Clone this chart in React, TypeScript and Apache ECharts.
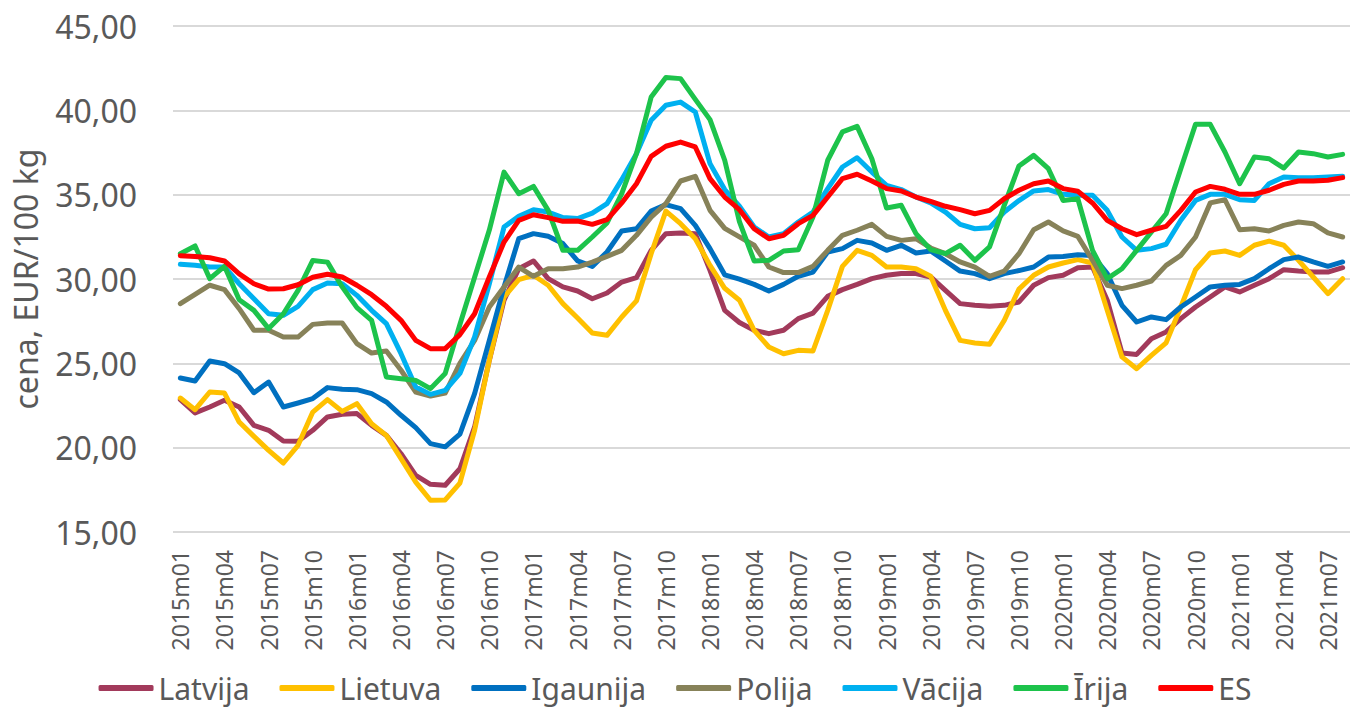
import React, { useEffect, useRef } from "react";
import * as echarts from "echarts";

const START_YEAR = 2015;
const MONTH_COUNT = 80;
const categories: string[] = [];
for (let i = 0; i < MONTH_COUNT; i++) {
  const y = START_YEAR + Math.floor(i / 12);
  const m = (i % 12) + 1;
  categories.push(`${y}m${m < 10 ? "0" + m : m}`);
}

const seriesNames = ["Latvija", "Lietuva", "Igaunija", "Polija", "Vācija", "Īrija", "ES"];
const seriesColors = ["#A23A5B", "#FFC000", "#0070C0", "#878259", "#00B0F0", "#1DC34B", "#FF0000"];

const latvija = [
  22.85, 22.06, 22.41, 22.81, 22.41, 21.32, 21.03, 20.4, 20.38, 21.03, 21.82, 21.98,
  22.02, 21.32, 20.73, 19.64, 18.36, 17.83, 17.77, 18.75, 21.23, 25.18, 28.74, 30.61,
  31.07, 30.02, 29.53, 29.29, 28.83, 29.17, 29.82, 30.08, 31.7, 32.69, 32.73, 32.69,
  30.51, 28.14, 27.42, 26.96, 26.76, 26.96, 27.65, 27.98, 28.97, 29.37, 29.68, 30.02,
  30.22, 30.32, 30.32, 30.12, 29.33, 28.54, 28.44, 28.38, 28.44, 28.64, 29.63, 30.08,
  30.22, 30.67, 30.71, 28.74, 25.61, 25.53, 26.46, 26.86, 27.65, 28.34, 28.93, 29.53,
  29.23, 29.63, 30.02, 30.55, 30.47, 30.41, 30.41, 30.67,
];
const lietuva = [
  22.94, 22.25, 23.3, 23.24, 21.52, 20.67, 19.84, 19.09, 20.14, 22.11, 22.85, 22.15,
  22.61, 21.42, 20.73, 19.35, 17.96, 16.88, 16.9, 17.9, 21.03, 25.18, 28.93, 29.96,
  30.22, 29.63, 28.54, 27.69, 26.8, 26.66, 27.75, 28.7, 31.5, 34.03, 33.28, 32.39,
  30.81, 29.45, 28.74, 26.96, 25.97, 25.57, 25.77, 25.73, 28.14, 30.75, 31.7, 31.4,
  30.71, 30.71, 30.61, 30.16, 28.14, 26.36, 26.21, 26.13, 27.55, 29.4, 30.22, 30.71,
  30.95, 31.15, 30.95, 28.14, 25.38, 24.68, 25.47, 26.21, 28.34, 30.55, 31.54, 31.66,
  31.4, 32.0, 32.25, 32.0, 31.11, 30.12, 29.13, 30.02,
];
const igaunija = [
  24.13, 23.95, 25.14, 24.98, 24.43, 23.26, 23.89, 22.41, 22.65, 22.91, 23.56, 23.46,
  23.44, 23.2, 22.71, 21.92, 21.19, 20.24, 20.05, 20.8, 23.2, 26.36, 29.53, 32.39,
  32.69, 32.53, 32.1, 31.07, 30.75, 31.6, 32.85, 32.98, 34.03, 34.41, 34.17, 33.18,
  31.8, 30.25, 29.99, 29.68, 29.29, 29.68, 30.16, 30.41, 31.6, 31.8, 32.29, 32.13,
  31.7, 32.0, 31.54, 31.66, 31.07, 30.47, 30.32, 30.02, 30.32, 30.5, 30.71, 31.3,
  31.34, 31.44, 31.4, 30.32, 28.44, 27.45, 27.75, 27.59, 28.34, 28.93, 29.53, 29.63,
  29.68, 30.02, 30.61, 31.15, 31.3, 31.01, 30.75, 31.01,
];
const polija = [
  28.54, 29.09, 29.63, 29.37, 28.24, 26.96, 26.96, 26.56, 26.56, 27.31, 27.39, 27.39,
  26.17, 25.61, 25.73, 24.59, 23.3, 23.06, 23.24, 25.0, 26.36, 28.34, 29.53, 30.71,
  30.16, 30.61, 30.61, 30.71, 31.0, 31.34, 31.7, 32.59, 33.67, 34.47, 35.81, 36.09,
  34.07, 33.0, 32.5, 32.0, 30.71, 30.38, 30.38, 30.75, 31.7, 32.59, 32.89, 33.24,
  32.53, 32.29, 32.39, 31.84, 31.5, 31.01, 30.71, 30.16, 30.47, 31.5, 32.92, 33.38,
  32.85, 32.53, 31.11, 29.63, 29.43, 29.63, 29.88, 30.81, 31.4, 32.49, 34.51, 34.7,
  32.92, 32.98, 32.85, 33.18, 33.38, 33.28, 32.73, 32.49,
];
const vacija = [
  30.87, 30.81, 30.71, 30.71, 29.72, 28.83, 27.94, 27.85, 28.38, 29.37, 29.76, 29.72,
  29.03, 28.14, 27.35, 25.57, 23.6, 23.16, 23.4, 24.4, 26.56, 29.72, 33.08, 33.72,
  34.11, 33.97, 33.64, 33.58, 33.91, 34.47, 35.89, 37.43, 39.41, 40.3, 40.49, 39.9,
  36.84, 35.3, 34.32, 33.08, 32.49, 32.69, 33.38, 33.97, 35.36, 36.64, 37.19, 36.34,
  35.55, 35.3, 34.86, 34.51, 33.97, 33.24, 32.98, 33.04, 33.97, 34.65, 35.22, 35.3,
  35.02, 34.96, 34.96, 34.07, 32.49, 31.7, 31.8, 32.06, 33.48, 34.66, 35.02, 35.02,
  34.7, 34.66, 35.65, 36.05, 36.01, 36.01, 36.05, 36.09,
];
const irija = [
  31.5, 31.96, 30.02, 30.75, 28.77, 28.14, 27.06, 27.94, 29.33, 31.1, 31.0, 29.53,
  28.3, 27.55, 24.19, 24.09, 23.99, 23.5, 24.4, 27.3, 30.1, 32.9, 36.34, 35.06,
  35.49, 34.07, 31.7, 31.7, 32.49, 33.32, 35.06, 37.43, 40.79, 41.94, 41.88, 40.65,
  39.45, 37.04, 33.4, 31.07, 31.11, 31.66, 31.74, 33.68, 37.04, 38.72, 39.05, 37.13,
  34.21, 34.37, 32.69, 31.74, 31.5, 32.0, 31.11, 31.9, 34.37, 36.7, 37.33, 36.54,
  34.66, 34.76, 31.7, 30.02, 30.61, 31.7, 32.79, 33.87, 36.54, 39.17, 39.17, 37.53,
  35.65, 37.23, 37.13, 36.58, 37.53, 37.43, 37.23, 37.39,
];
const es = [
  31.38, 31.34, 31.26, 31.07, 30.3, 29.72, 29.4, 29.42, 29.66, 30.1, 30.28, 30.12,
  29.63, 29.07, 28.38, 27.55, 26.36, 25.87, 25.87, 26.7, 27.94, 30.12, 32.19, 33.48,
  33.81, 33.64, 33.42, 33.44, 33.24, 33.52, 34.51, 35.65, 37.27, 37.87, 38.12, 37.83,
  35.95, 34.86, 34.11, 32.98, 32.39, 32.59, 33.28, 33.77, 34.86, 35.95, 36.21, 35.81,
  35.36, 35.22, 34.86, 34.6, 34.31, 34.11, 33.87, 34.07, 34.76, 35.26, 35.65, 35.81,
  35.36, 35.2, 34.51, 33.48, 32.98, 32.63, 32.89, 33.12, 34.07, 35.16, 35.49, 35.32,
  35.02, 35.02, 35.26, 35.61, 35.81, 35.81, 35.85, 36.01,
];

const seriesData = [latvija, lietuva, igaunija, polija, vacija, irija, es];

const FONT = "'Noto Sans', 'Open Sans', sans-serif";
const TEXT = "#595959";

export default function App() {
  const ref = useRef<HTMLDivElement>(null);
  useEffect(() => {
    if (!ref.current) return;
    const chart = echarts.init(ref.current, undefined, { renderer: "svg" });
    chart.setOption({
      animation: false,
      textStyle: { fontFamily: FONT },
      grid: { left: 173, right: 0, top: 26, bottom: 184, containLabel: false },
      legend: {
        data: seriesNames,
        left: "center",
        top: 673,
        padding: 0,
        icon: "roundRect",
        itemWidth: 55,
        itemHeight: 6,
        itemGap: 30,
        textStyle: { fontSize: 30, color: TEXT, fontFamily: FONT },
      },
      xAxis: {
        type: "category",
        data: categories,
        boundaryGap: true,
        axisLine: { show: false },
        axisTick: { show: false },
        axisLabel: {
          interval: 2,
          rotate: 90,
          fontSize: 23,
          color: TEXT,
          fontFamily: FONT,
          margin: 18,
        },
        splitLine: { show: false },
      },
      yAxis: {
        type: "value",
        min: 15,
        max: 45,
        interval: 5,
        name: "cena, EUR/100 kg",
        nameLocation: "middle",
        nameGap: 132,
        nameTextStyle: { fontSize: 32, color: TEXT, fontFamily: FONT },
        axisLine: { show: false },
        axisTick: { show: false },
        axisLabel: {
          fontSize: 32,
          color: TEXT,
          fontFamily: FONT,
          margin: 36,
          formatter: (v: number) => v.toFixed(2).replace(".", ","),
        },
        splitLine: { lineStyle: { color: "#D9D9D9", width: 2 } },
      },
      series: seriesNames.map((name, k) => ({
        name,
        type: "line",
        data: seriesData[k],
        showSymbol: false,
        symbol: "none",
        smooth: false,
        color: seriesColors[k],
        lineStyle: { width: 5, color: seriesColors[k], cap: "round", join: "round" },
        emphasis: { disabled: true },
      })),
    });
    return () => chart.dispose();
  }, []);
  return (
    <div
      ref={ref}
      style={{ position: "absolute", left: 0, top: 0, width: 1350, height: 716, background: "#fff" }}
    />
  );
}
